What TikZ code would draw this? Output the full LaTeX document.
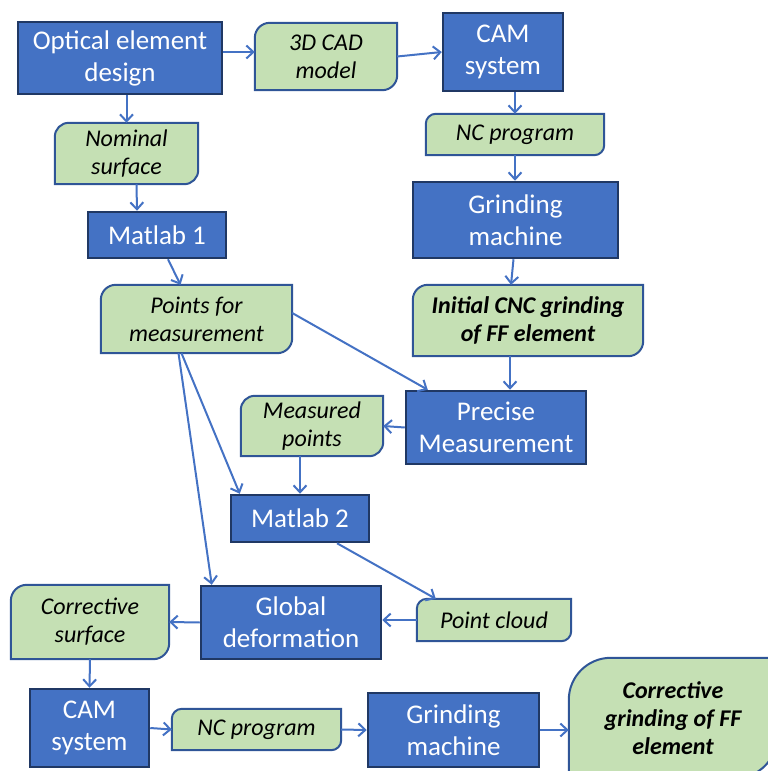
\documentclass[tikz,border=0pt]{standalone}
\usepackage{fontspec}
\setmainfont{Carlito}
\usetikzlibrary{arrows.meta,backgrounds}

\definecolor{procblue}{RGB}{68,114,196}
\definecolor{procedge}{RGB}{32,56,100}
\definecolor{datagreen}{RGB}{197,224,180}
\definecolor{dataedge}{RGB}{47,85,151}

\begin{document}
\begin{tikzpicture}
[
  x=1pt, y=1pt,
  >={Straight Barb[length=7pt,width=13pt]},
  proc/.style={draw=procedge,line width=2.5pt,fill=procblue,text=white,
    font=\fontsize{27}{32}\selectfont,align=center,inner sep=0pt},
  data/.style={align=center,inner sep=0pt,font=\fontsize{24}{28}\selectfont\itshape},
  datab/.style={data,font=\fontsize{24}{28}\selectfont\bfseries\itshape},
  flow/.style={->,draw=procblue,line width=2pt},
  dataline/.style={draw=dataedge,line width=2pt,fill=datagreen}
]
\useasboundingbox (0,0) rectangle (768,-771);

% design and CAM chain
\node[proc,minimum width=204,minimum height=72] (design) at (120,-58) {Optical element\\design};
\node[data,minimum width=142,minimum height=67] (cad) at (326,-56.5) {3D CAD\\model};
\node[proc,minimum width=120,minimum height=78] (cam1) at (503,-52) {CAM\\system};
\node[data,minimum width=178,minimum height=41] (nc1) at (515,-134.5) {NC program};
\node[proc,minimum width=205,minimum height=76] (grind1) at (515.5,-220) {Grinding\\machine};
\node[datab,minimum width=230,minimum height=71] (initial) at (528,-320.5) {Initial CNC grinding\\of FF element};

% measurement chain
\node[data,minimum width=143,minimum height=61] (nominal) at (126.5,-153.5) {Nominal\\surface};
\node[proc,minimum width=138,minimum height=46] (matlab1) at (157,-235) {Matlab 1};
\node[data,minimum width=191,minimum height=68] (points) at (196.5,-319) {Points for\\measurement};
\node[proc,minimum width=180,minimum height=73] (precise) at (496,-427.5) {Precise\\Measurement};
\node[data,minimum width=142,minimum height=60] (measured) at (312,-426) {Measured\\points};
\node[proc,minimum width=138,minimum height=47] (matlab2) at (300,-518.5) {Matlab 2};
\node[data,minimum width=154,minimum height=42] (pcloud) at (494,-620) {Point cloud};

% correction chain
\node[proc,minimum width=180,minimum height=73] (global) at (291,-622.5) {Global\\deformation};
\node[data,minimum width=158,minimum height=74] (corrsurf) at (90,-622) {Corrective\\surface};
\node[proc,minimum width=119,minimum height=78] (cam2) at (89.5,-728) {CAM\\system};
\node[data,minimum width=169,minimum height=41] (nc2) at (256.5,-729.5) {NC program};
\node[proc,minimum width=171,minimum height=74] (grind2) at (453.5,-730) {Grinding\\machine};
\node[datab,minimum width=208,minimum height=120] (corrgrind) at (673,-718) {Corrective\\grinding of FF\\element};

% green data boxes
\begin{scope}[on background layer]
\clip (0,0) rectangle (768,-771);
\foreach \n/\r in {cad/15,nominal/14,nc1/10,initial/15,points/15,measured/14,pcloud/10,corrsurf/16,nc2/10,corrgrind/42}
  \draw[dataline] (\n.north east) -- ([yshift=\r]\n.south east) arc[start angle=0,end angle=-90,radius=\r]
    -- (\n.south west) -- ([yshift=-\r]\n.north west) arc[start angle=180,end angle=90,radius=\r] -- cycle;
\end{scope}

% arrows
\draw[flow] ([yshift=6]design.east) -- ([yshift=4.5]cad.west);
\draw[flow] (cad.east) -- (cam1.west);
\draw[flow] (design.south -| nominal.north) -- (nominal.north);
\draw[flow] ([xshift=10]nominal.south) -- ([xshift=-20]matlab1.north);
\draw[flow] ([xshift=11]matlab1.south) -- ([xshift=-16]points.north);
\draw[flow] (cam1.south -| nc1.north) -- (nc1.north);
\draw[flow] (nc1.south) -- (nc1.south |- grind1.north);
\draw[flow] ([xshift=-2]grind1.south) -- ([xshift=-17]initial.north);
\draw[flow] ([xshift=-18]initial.south) -- ([xshift=14]precise.north);
\draw[flow] ([yshift=6]points.east) -- ([xshift=23]precise.north west);
\draw[flow] (precise.west) -- (measured.east);
\draw[flow] (measured.south -| matlab2.north) -- (matlab2.north);
\draw[flow] ([xshift=-15]points.south) -- ([xshift=10]matlab2.north west);
\draw[flow] ([xshift=-18]points.south) -- ([xshift=12]global.north west);
\draw[flow] ([xshift=37]matlab2.south) -- ([xshift=19]pcloud.north west);
\draw[flow] (pcloud.west) -- (pcloud.west -| global.east);
\draw[flow] (global.west) -- (corrsurf.east);
\draw[flow] (corrsurf.south) -- (cam2.north);
\draw[flow] (cam2.east) -- (nc2.west);
\draw[flow] (nc2.east) -- (grind2.west);
\draw[flow] (grind2.east) -- (grind2.east -| corrgrind.west);

\end{tikzpicture}
\end{document}
